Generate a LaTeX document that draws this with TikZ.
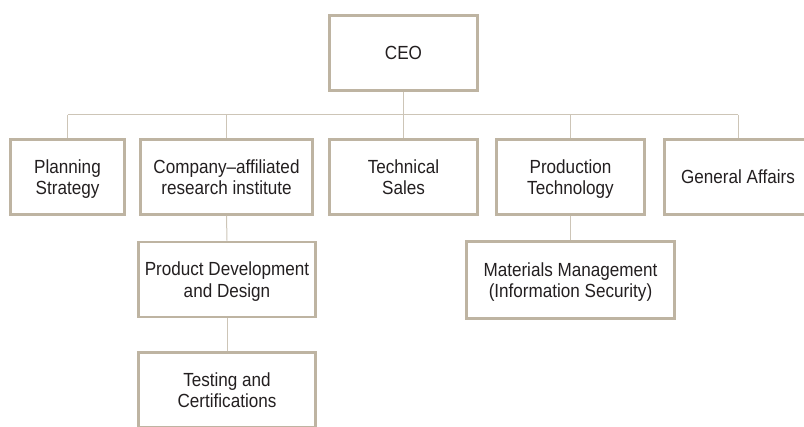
\documentclass[tikz,border=0pt]{standalone}
\usepackage{fontspec}
\setmainfont[FakeStretch=0.9]{Liberation Sans}
\definecolor{boxline}{RGB}{190,180,162}
\definecolor{linkline}{RGB}{205,197,183}
\definecolor{textgray}{RGB}{35,31,32}

\begin{document}
\begin{tikzpicture}[x=1pt,y=-1pt,
        unitbox/.style={draw=boxline,line width=2.6pt,fill=white,align=center,
            text=textgray,font=\fontsize{19}{21.5}\selectfont,text depth=0pt,
            minimum width=148pt,minimum height=75pt,inner sep=0pt},
        link/.style={draw=linkline,line width=1pt}]
        \clip (0,0) rectangle (804,427);

        \node[unitbox] (ceo) at (403.5,53) {CEO};

        \node[unitbox,minimum width=114pt] (plan) at (67.5,177) {Planning\\Strategy};
        \node[unitbox,minimum width=172pt] (inst) at (226.5,177) {Company--affiliated\\research institute};
        \node[unitbox] (sales) at (403.5,177) {Technical\\Sales};
        \node[unitbox] (prod) at (570.5,177) {Production\\Technology};
        \node[unitbox,minimum width=147pt] (gen) at (738,177) {General Affairs};

        \node[unitbox,minimum width=177pt] (dev) at (227,279.5) {Product Development\\and Design};
        \node[unitbox,minimum width=177pt] (test) at (227,390) {Testing and\\Certifications};
        \node[unitbox,minimum width=208pt,minimum height=77pt] (mat) at (570.5,280) {Materials Management\\(Information Security)};

        \coordinate (bus) at (403.5,115);
        \draw[link] (ceo.south) -- (bus);
        \draw[link] (plan.north |- bus) -- (gen.north |- bus);
        \foreach \u in {plan,inst,sales,prod,gen}
            \draw[link] (\u.north |- bus) -- (\u.north);

        \draw[link] (inst.south) -- (dev.north);
        \draw[link] (dev.south) -- (test.north);
        \draw[link] (prod.south) -- (mat.north);
    \end{tikzpicture}
\end{document}
